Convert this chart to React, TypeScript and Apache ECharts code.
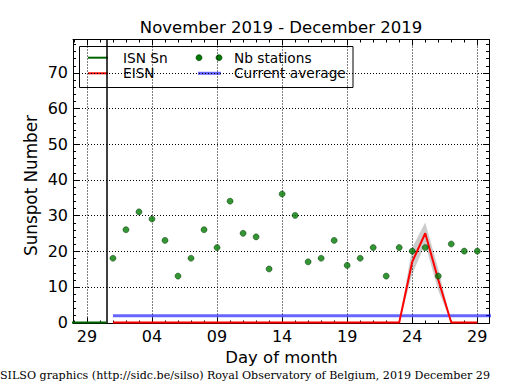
import React, { useEffect, useRef } from "react";
import * as echarts from "echarts";

// ---- data ----
const decDays = [1, 2, 3, 4, 5, 6, 7, 8, 9, 10, 11, 12, 13, 14, 15, 16, 17, 18, 19, 20, 21, 22, 23, 24, 25, 26, 27, 28, 29];
const nbStations = [18, 26, 31, 29, 23, 13, 18, 26, 21, 34, 25, 24, 15, 36, 30, 17, 18, 23, 16, 18, 21, 13, 21, 20, 21, 13, 22, 20, 20];
const eisn = [0, 0, 0, 0, 0, 0, 0, 0, 0, 0, 0, 0, 0, 0, 0, 0, 0, 0, 0, 0, 0, 0, 0, 17, 25, 12, 0, 0, 0];
const bandDays = [23, 24, 25, 26, 27];
const bandLow = [0, 13.5, 22, 9, 0];
const bandHigh = [0, 21, 28, 15, 0];
// previous month (November) ISN, plotted relative to Dec 0 = Nov 30
const prevDays = [-3, -2, -1, 0];
const isnPrev = [0, 0, 0, 0];
const monthBoundary = 0.5;
const currentAverage = 1.9;
const averageSpan = [1, 31];

const xTickValues = [-1, 4, 9, 14, 19, 24, 29];
const xTickLabels = ["29", "04", "09", "14", "19", "24", "29"];
const xMinorValues = [-2, -1, 0, 1, 2, 3, 4, 5, 6, 7, 8, 9, 10, 11, 12, 13, 14, 15, 16, 17, 18, 19, 20, 21, 22, 23, 24, 25, 26, 27, 28, 29];
const yTickValues = [0, 10, 20, 30, 40, 50, 60, 70];
const yMinorValues = [0, 2, 4, 6, 8, 10, 12, 14, 16, 18, 20, 22, 24, 26, 28, 30, 32, 34, 36, 38, 40, 42, 44, 46, 48, 50, 52, 54, 56, 58, 60, 62, 64, 66, 68, 70, 72, 74, 76, 78];

const X_MIN = -2.07;
const X_MAX = 29.9;
const Y_MIN = -0.28;
const Y_MAX = 79.3;

const FONT = "DejaVu Sans";

export default function App() {
  const ref = useRef<HTMLDivElement>(null);
  useEffect(() => {
    if (!ref.current) return;
    const chart = echarts.init(ref.current, null, { renderer: "svg" });
    const legendY1 = 57.7;
    const legendY2 = 73.3;
    const option: any = {
      animation: false,
      backgroundColor: "#fff",
      textStyle: { fontFamily: FONT },
      grid: { left: 73, right: 26, top: 39.5, bottom: 66.5, show: false },
      xAxis: [
        {
          type: "value",
          min: X_MIN,
          max: X_MAX,
          position: "bottom",
          axisLine: { show: true, onZero: false, lineStyle: { color: "#000", width: 1 } },
          axisTick: { show: false },
          axisLabel: {
            customValues: xTickValues,
            formatter: (v: number) => {
              const i = xTickValues.indexOf(Math.round(v));
              return i >= 0 ? xTickLabels[i] : "";
            },
            fontSize: 16,
            color: "#000",
            fontFamily: FONT,
            margin: 5,
          },
          splitLine: { show: false },
        },
        {
          type: "value",
          min: X_MIN,
          max: X_MAX,
          position: "top",
          axisLine: { show: true, onZero: false, lineStyle: { color: "#000", width: 1 } },
          axisTick: { show: false },
          axisLabel: { show: false },
          splitLine: { show: false },
        },
      ],
      yAxis: [
        {
          type: "value",
          min: Y_MIN,
          max: Y_MAX,
          position: "left",
          axisLine: { show: true, onZero: false, lineStyle: { color: "#000", width: 1 } },
          axisTick: { show: false },
          axisLabel: { customValues: yTickValues, fontSize: 16, color: "#000", fontFamily: FONT, margin: 5 },
          splitLine: { show: false },
        },
        {
          type: "value",
          min: Y_MIN,
          max: Y_MAX,
          position: "right",
          axisLine: { show: true, onZero: false, lineStyle: { color: "#000", width: 1 } },
          axisTick: { show: false },
          axisLabel: { show: false },
          splitLine: { show: false },
        },
      ],
      series: [
        {
          type: "custom",
          name: "frame",
          data: [[X_MIN, Y_MIN]],
          encode: { x: 0, y: 1 },
          silent: true,
          clip: false,
          z: 5,
          renderItem: (params: any, api: any) => {
            const children: any[] = [];
            const bottom = api.coord([X_MIN, Y_MIN])[1];
            const top = api.coord([X_MIN, Y_MAX])[1];
            const left = api.coord([X_MIN, Y_MIN])[0];
            const right = api.coord([X_MAX, Y_MIN])[0];
            // grid lines
            xTickValues.forEach((v) => {
              const x = Math.round(api.coord([v, Y_MIN])[0]) + 0.5;
              children.push({
                type: "line",
                shape: { x1: x, y1: bottom, x2: x, y2: top },
                style: { stroke: "#000", lineWidth: 1, lineDash: [1, 2] },
              });
            });
            yTickValues.filter((v) => v > 0).forEach((v) => {
              const y = Math.round(api.coord([X_MIN, v])[1]) + 0.5;
              children.push({
                type: "line",
                shape: { x1: left, y1: y, x2: right, y2: y },
                style: { stroke: "#000", lineWidth: 1, lineDash: [1, 2] },
              });
            });
            // ticks (inside, all four sides)
            const tick = (vals: number[], len: number) => {
              vals.forEach((v) => {
                const x = Math.round(api.coord([v, Y_MIN])[0]) + 0.5;
                children.push({ type: "line", shape: { x1: x, y1: bottom, x2: x, y2: bottom - len }, style: { stroke: "#000", lineWidth: 1 } });
                children.push({ type: "line", shape: { x1: x, y1: top, x2: x, y2: top + len }, style: { stroke: "#000", lineWidth: 1 } });
              });
            };
            const ytick = (vals: number[], len: number) => {
              vals.forEach((v) => {
                const y = Math.round(api.coord([X_MIN, v])[1]) + 0.5;
                children.push({ type: "line", shape: { x1: left, y1: y, x2: left + len, y2: y }, style: { stroke: "#000", lineWidth: 1 } });
                children.push({ type: "line", shape: { x1: right, y1: y, x2: right - len, y2: y }, style: { stroke: "#000", lineWidth: 1 } });
              });
            };
            tick(xMinorValues, 3);
            tick(xTickValues, 6);
            ytick(yMinorValues, 3);
            ytick(yTickValues, 6);
            return { type: "group", children };
          },
        },
        {
          type: "custom",
          name: "band",
          data: bandDays.map((d, i) => [d, bandLow[i], bandHigh[i]]),
          encode: { x: 0, y: [1, 2] },
          silent: true,
          z: 1,
          renderItem: (params: any, api: any) => {
            if (params.dataIndex !== 0) return null as any;
            const upper = bandDays.map((d, i) => api.coord([d, bandHigh[i]]));
            const lower = bandDays.map((d, i) => api.coord([d, bandLow[i]])).reverse();
            return {
              type: "polygon",
              shape: { points: upper.concat(lower) },
              style: { fill: "rgba(128,128,128,0.4)" },
            };
          },
        },
        {
          type: "line",
          name: "Current average",
          data: averageSpan.map((d) => [d, currentAverage]),
          symbol: "none",
          lineStyle: { color: "rgba(0,0,255,0.6)", width: 3 },
          z: 6,
        },
        {
          type: "line",
          name: "EISN",
          data: decDays.map((d, i) => [d, eisn[i]]),
          symbol: "none",
          lineStyle: { color: "#ff0000", width: 2 },
          z: 7,
        },
        {
          type: "line",
          name: "ISN Sn",
          data: [...prevDays.map((d, i) => [d, isnPrev[i]]), [monthBoundary, 0]],
          symbol: "none",
          lineStyle: { color: "#006400", width: 2 },
          z: 7,
          markLine: {
            silent: true,
            symbol: "none",
            label: { show: false },
            lineStyle: { color: "#000", type: "solid", width: 1.5 },
            data: [{ xAxis: monthBoundary }],
          },
        },
        {
          type: "scatter",
          name: "Nb stations",
          data: decDays.map((d, i) => [d, nbStations[i]]),
          symbol: "circle",
          symbolSize: 6,
          itemStyle: { color: "#007a00", borderColor: "#003000", borderWidth: 0.6 },
          z: 8,
        },
      ],
      graphic: [
        {
          type: "text",
          x: 281,
          y: 27,
          style: { text: "November 2019 - December 2019", font: `16.5px ${FONT}`, fill: "#000", align: "center", verticalAlign: "middle" },
        },
        {
          type: "text",
          x: 31,
          y: 185.5,
          rotation: Math.PI / 2,
          style: { text: "Sunspot Number", font: `16.8px ${FONT}`, fill: "#000", align: "center", verticalAlign: "middle" },
        },
        {
          type: "text",
          x: 281.5,
          y: 357,
          style: { text: "Day of month", font: `16.5px ${FONT}`, fill: "#000", align: "center", verticalAlign: "middle" },
        },
        {
          type: "text",
          x: 0,
          y: 375,
          style: {
            text: "SILSO graphics (http://sidc.be/silso) Royal Observatory of Belgium, 2019 December 29",
            font: `11.1px "DejaVu Serif"`,
            fill: "#000",
            align: "left",
            verticalAlign: "middle",
          },
        },
        {
          type: "group",
          z: 100,
          children: [
            { type: "rect", shape: { x: 79.5, y: 46.5, width: 273.5, height: 41 }, style: { fill: "#fff", stroke: "#000", lineWidth: 1 } },
            { type: "line", shape: { x1: 88, y1: legendY1, x2: 108, y2: legendY1 }, style: { stroke: "#006400", lineWidth: 2 } },
            { type: "text", x: 123, y: legendY1, style: { text: "ISN Sn", font: `13.7px ${FONT}`, fill: "#000", verticalAlign: "middle" } },
            { type: "line", shape: { x1: 88, y1: legendY2, x2: 108, y2: legendY2 }, style: { stroke: "#ff0000", lineWidth: 2 } },
            { type: "text", x: 123, y: legendY2, style: { text: "EISN", font: `13.7px ${FONT}`, fill: "#000", verticalAlign: "middle" } },
            { type: "circle", shape: { cx: 199, cy: legendY1, r: 3 }, style: { fill: "#007a00", stroke: "#003000", lineWidth: 0.6 } },
            { type: "circle", shape: { cx: 219, cy: legendY1, r: 3 }, style: { fill: "#007a00", stroke: "#003000", lineWidth: 0.6 } },
            { type: "text", x: 234, y: legendY1, style: { text: "Nb stations", font: `13.7px ${FONT}`, fill: "#000", verticalAlign: "middle" } },
            { type: "line", shape: { x1: 198, y1: legendY2, x2: 221, y2: legendY2 }, style: { stroke: "rgba(0,0,255,0.6)", lineWidth: 3 } },
            { type: "text", x: 234, y: legendY2, style: { text: "Current average", font: `13.7px ${FONT}`, fill: "#000", verticalAlign: "middle" } },
          ],
        },
      ],
    };
    chart.setOption(option);
    return () => chart.dispose();
  }, []);
  return <div ref={ref} style={{ position: "fixed", left: 0, top: 0, width: 515, height: 390 }} />;
}
